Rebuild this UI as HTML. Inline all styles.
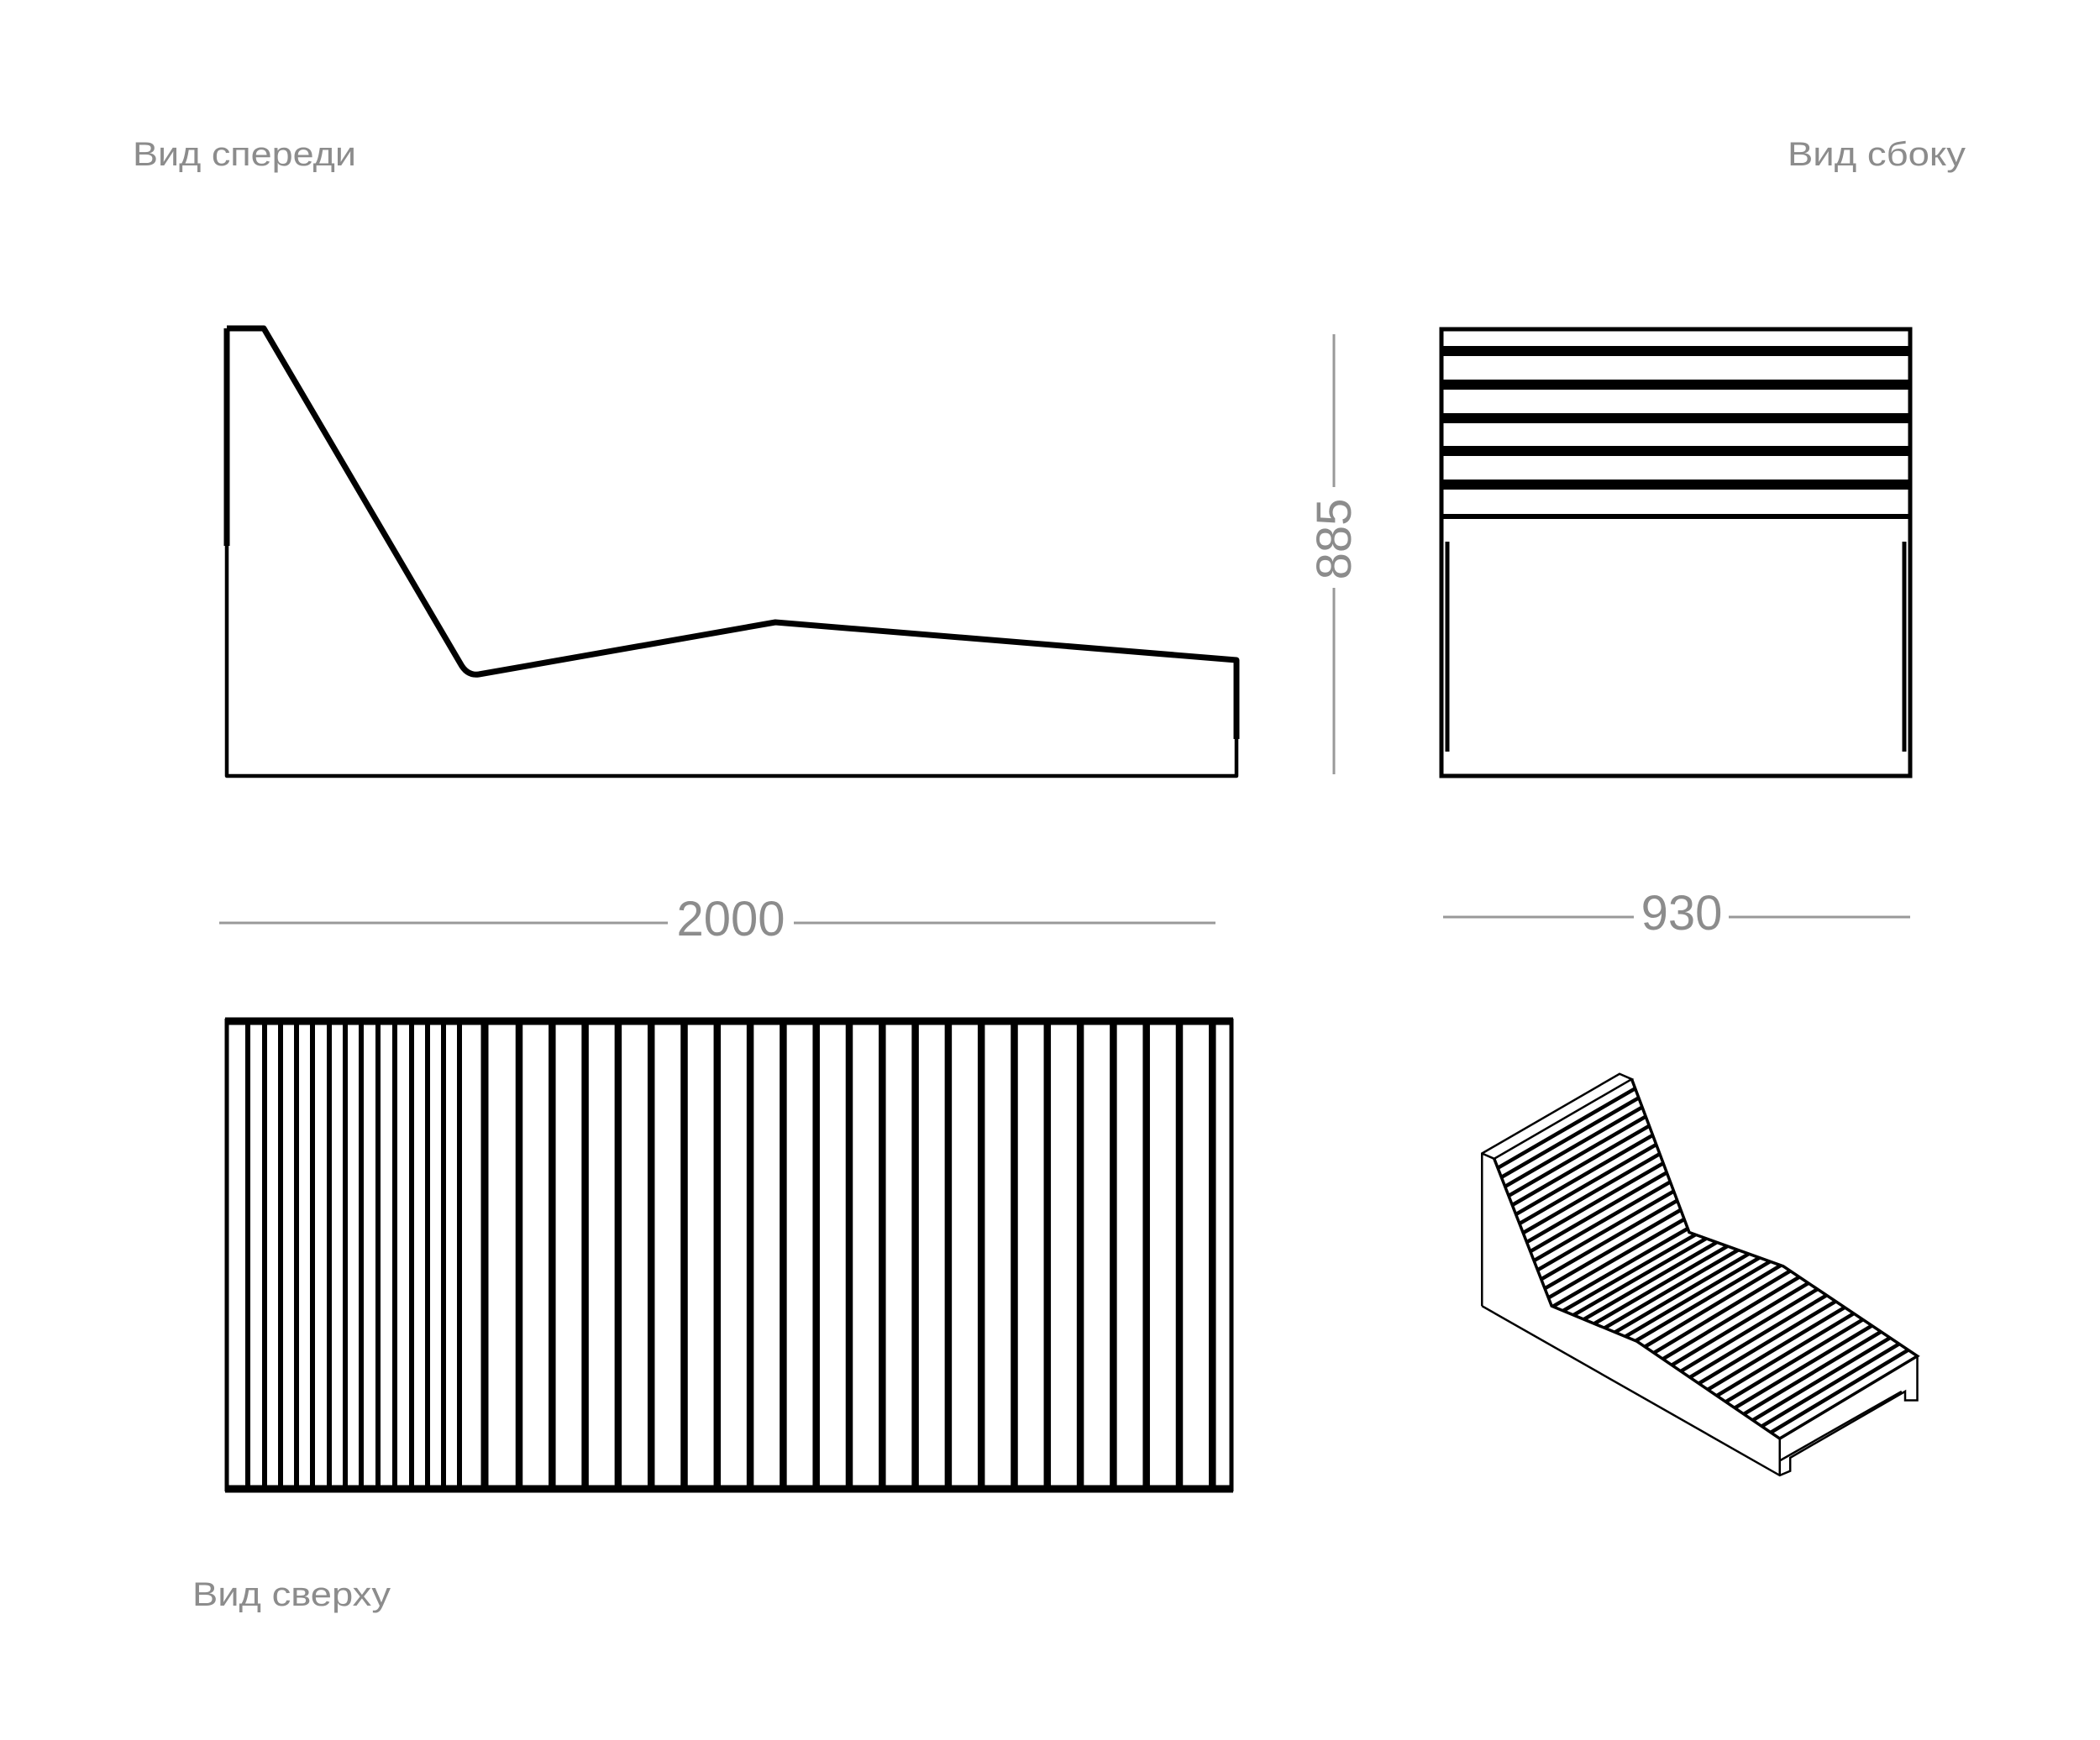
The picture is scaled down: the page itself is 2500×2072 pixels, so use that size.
<!DOCTYPE html>
<html><head><meta charset="utf-8"><style>
html,body{margin:0;padding:0;background:#fff}
svg{display:block}
text{font-family:"Liberation Sans",sans-serif;fill:#8c8c8c}
</style></head><body>
<svg id="s" width="2500" height="2072" viewBox="0 0 2500 2072" xmlns="http://www.w3.org/2000/svg">
<rect width="2500" height="2072" fill="#fff"/>
<text x="158" y="197" font-size="40" textLength="266" lengthAdjust="spacingAndGlyphs">Вид спереди</text>
<text x="2128" y="197" font-size="40" textLength="212" lengthAdjust="spacingAndGlyphs">Вид сбоку</text>
<text x="229" y="1912" font-size="40" textLength="236" lengthAdjust="spacingAndGlyphs">Вид сверху</text>

<!-- front view -->
<g fill="none" stroke="#000" stroke-linejoin="round">
<path d="M270,391 L314,391 L548,790 Q556,805 570,803 L923,741 L1472,786 L1472,880" stroke-width="7"/>
<line x1="270" y1="391" x2="270" y2="650" stroke-width="7"/>
<polyline points="270,650 270,924 1472,924 1472,880" stroke-width="4.5"/>
</g>
<!-- 885 dim -->
<g stroke="#999" stroke-width="3">
<line x1="1588" y1="398" x2="1588" y2="580"/>
<line x1="1588" y1="700" x2="1588" y2="922"/>
</g>
<text transform="translate(1608,642) rotate(-90)" font-size="58" text-anchor="middle">885</text>

<!-- side view -->
<g stroke="#000" fill="none">
<rect x="1716" y="392" width="558" height="532" stroke-width="5"/>
<line x1="1716" y1="418" x2="2274" y2="418" stroke-width="12"/>
<line x1="1716" y1="458" x2="2274" y2="458" stroke-width="12"/>
<line x1="1716" y1="498" x2="2274" y2="498" stroke-width="12"/>
<line x1="1716" y1="537" x2="2274" y2="537" stroke-width="12"/>
<line x1="1716" y1="577" x2="2274" y2="577" stroke-width="12"/>
<line x1="1716" y1="615" x2="2274" y2="615" stroke-width="6"/>
<line x1="1723" y1="645" x2="1723" y2="895" stroke-width="5"/>
<line x1="2267" y1="645" x2="2267" y2="895" stroke-width="5"/>
</g>

<!-- dims -->
<g stroke="#999" stroke-width="3">
<line x1="261" y1="1099" x2="795" y2="1099"/>
<line x1="945" y1="1099" x2="1447" y2="1099"/>
<line x1="1718" y1="1092" x2="1945" y2="1092"/>
<line x1="2058" y1="1092" x2="2274" y2="1092"/>
</g>
<text x="870" y="1114" font-size="58" text-anchor="middle">2000</text>
<text x="2002" y="1107" font-size="58" text-anchor="middle">930</text>

<!-- top view -->
<g id="top" stroke="#000" fill="none">
<line x1="268" y1="1216" x2="1468" y2="1216" stroke-width="9"/>
<line x1="268" y1="1773" x2="1468" y2="1773" stroke-width="9"/>
<line x1="270" y1="1213" x2="270" y2="1776" stroke-width="5"/>
<line x1="1466" y1="1213" x2="1466" y2="1776" stroke-width="5"/>
</g>

<!-- iso -->
<g id="iso" transform="translate(1700,1250) scale(0.4146,0.3508)" fill="none" stroke="#000">
<polyline vector-effect="non-scaling-stroke" stroke-width="2.5" points="155,870 155,352 550,82 585,100 190,370 155,352"/>
<polyline vector-effect="non-scaling-stroke" stroke-width="2.5" points="155,870 1010,1445 1040,1430 1040,1385 1370,1160 1370,1190 1405,1190 1405,1040"/>
<polyline vector-effect="non-scaling-stroke" stroke-width="2.5" points="1010,1320 1010,1445"/>
<polyline vector-effect="non-scaling-stroke" stroke-width="2.5" points="1010,1395 1360,1160"/>
<polyline vector-effect="non-scaling-stroke" stroke-width="3.5" points="190,370 355,870 600,990 1010,1320 1405,1040 1020,735 750,620 585,100"/>
</g>
</svg>
<script>
(function(){
var NS="http://www.w3.org/2000/svg";
var top=document.getElementById('top');
var xs=[295,315,334,353,372,392,411,430,450,470,490,509,528,547,577];
for(var x=618;x<1450;x+=39.3)xs.push(x);
xs.forEach(function(x,i){var l=document.createElementNS(NS,'line');
l.setAttribute('x1',x);l.setAttribute('x2',x);l.setAttribute('y1',1216);l.setAttribute('y2',1773);
l.setAttribute('stroke-width',i<14?6:(i==14?9:8.5));top.appendChild(l);});
var iso=document.getElementById('iso');
var L=[[190,370],[355,870],[600,990],[1010,1320]];
var R=[[585,100],[750,620],[1020,735],[1405,1040]];
function len(P){var a=[0];for(var i=1;i<P.length;i++){a.push(a[i-1]+Math.hypot(P[i][0]-P[i-1][0],P[i][1]-P[i-1][1]));}return a;}
function at(P,cl,t){var d=t*cl[cl.length-1];for(var i=1;i<P.length;i++){if(d<=cl[i]||i==P.length-1){var f=(d-cl[i-1])/(cl[i]-cl[i-1]);return [P[i-1][0]+f*(P[i][0]-P[i-1][0]),P[i-1][1]+f*(P[i][1]-P[i-1][1])];}}}
var cL=len(L),cR=len(R),N=40;
for(var k=1;k<N;k++){var t=k/N;var a=at(L,cL,t),b=at(R,cR,t);
var l=document.createElementNS(NS,'line');l.setAttribute('x1',a[0]);l.setAttribute('y1',a[1]);l.setAttribute('x2',b[0]);l.setAttribute('y2',b[1]);
l.setAttribute('vector-effect','non-scaling-stroke');l.setAttribute('stroke-width','4.5');iso.appendChild(l);}
})();
</script>
</body></html>
